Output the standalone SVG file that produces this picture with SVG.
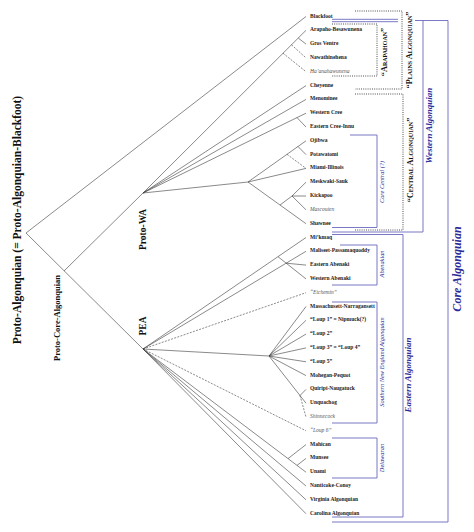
<svg xmlns="http://www.w3.org/2000/svg" width="474" height="532" viewBox="0 0 474 532">
<style>
.e{stroke:#3a3a3a;stroke-width:0.6;fill:none}
.d{stroke-dasharray:2 1.3}
.b{stroke:#6a6ac0;stroke-width:0.9;fill:none}
.p{stroke:#222;stroke-width:0.8;stroke-dasharray:1 1.2;fill:none}
text{font-family:"Liberation Serif","Times New Roman",serif}
.lf{font-size:5.5px;font-weight:bold;fill:#222}
.it{font-weight:normal;font-style:italic;fill:#555}
.nl{font-weight:bold;fill:#111}
.sc{font-size:8.3px;font-weight:bold;font-variant:small-caps;fill:#111}
.bl{font-style:italic;fill:#2b2b99}
.bb{font-weight:bold;font-style:italic;fill:#2b2b99}
</style>
<rect width="474" height="532" fill="#fff"/>
<g id="connectors">
<path class="e" d="M26,233L306,16.5M26,233L143,349M64,271L143,193"/>
<path class="e" d="M143,193L306,30.3M298.3,38.1L306,44.1M143,193L306,85.6M143,193L306,99.4M143,193L306,113.2M297,117.6L306,127M143,193L248,182"/>
<path class="e d" d="M291.5,44.8L306,57.9M283,53.2L306,71.7"/>
<path class="e" d="M248,182L306,140.8M298,146.5L306,154.6M248,182L306,168.4M248,182L306,223.7M280,205L292,196M292,196L306,182.2M292,196L306,196M292,196L306,209.8"/>
<path class="e d" d="M287,154.3L306,168.4"/>
<path class="e" d="M143,349L306,237.5M143,349L306,251.3M278,256.7L306,278.9M286.2,263.2L306,265.1"/>
<path class="e d" d="M143,349L306,292.7"/>
<path class="e" d="M143,349L269,356M269,356L306,306.5M269,356L306,320.3M269,356L306,334.1M269,356L306,347.9M269,356L306,361.8M269,356L306,375.6M269,356L306,403.2M300,395.5L306,389.4"/>
<path class="e d" d="M300,395.5L306,417M143,349L306,430.8"/>
<path class="e" d="M143,349L306,472.2M288,458.6L306,444.6M297,465.4L306,458.4M143,349L306,486M143,349L306,499.8M143,349L306,513.7"/>
</g>
<g id="root"><text class="nl" font-size="11.5" transform="translate(20.8,220) rotate(-90)" text-anchor="middle">Proto-Algonquian (= Proto-Algonquian-Blackfoot)</text></g>
<g id="proto-core"><text class="nl" font-size="8.5" transform="translate(59.8,318) rotate(-90)" text-anchor="middle">Proto-Core-Algonquian</text></g>
<g id="proto-wa"><text class="nl" font-size="9.5" transform="translate(146.2,229.5) rotate(-90)" text-anchor="middle">Proto-WA</text></g>
<g id="pea"><text class="nl" font-size="9.5" transform="translate(146.2,326) rotate(-90)" text-anchor="middle">PEA</text></g>
<g id="leaves">
<g id="n-blackfoot"><text class="lf" x="310" y="17.5">Blackfoot</text></g>
<g id="n-arapaho"><text class="lf" x="310" y="31.3">Arapaho-Besawunena</text></g>
<g id="n-grosventre"><text class="lf" x="310" y="45.1">Gros Ventre</text></g>
<g id="n-nawathinehena"><text class="lf" x="310" y="58.9">Nawathinehena</text></g>
<g id="n-haanahawunena"><text class="lf it" x="310" y="72.7">Ha’anahawunena</text></g>
<g id="n-cheyenne"><text class="lf" x="310" y="86.6">Cheyenne</text></g>
<g id="n-menominee"><text class="lf" x="310" y="100.4">Menominee</text></g>
<g id="n-wcree"><text class="lf" x="310" y="114.2">Western Cree</text></g>
<g id="n-ecree"><text class="lf" x="310" y="128">Eastern Cree-Innu</text></g>
<g id="n-ojibwa"><text class="lf" x="310" y="141.8">Ojibwa</text></g>
<g id="n-potawatomi"><text class="lf" x="310" y="155.6">Potawatomi</text></g>
<g id="n-miami"><text class="lf" x="310" y="169.4">Miami-Illinois</text></g>
<g id="n-meskwaki"><text class="lf" x="310" y="183.2">Meskwaki-Sauk</text></g>
<g id="n-kickapoo"><text class="lf" x="310" y="197">Kickapoo</text></g>
<g id="n-mascouten"><text class="lf it" x="310" y="210.8">Mascouten</text></g>
<g id="n-shawnee"><text class="lf" x="310" y="224.7">Shawnee</text></g>
<g id="n-mikmaq"><text class="lf" x="310" y="238.5">Mi’kmaq</text></g>
<g id="n-maliseet"><text class="lf" x="310" y="252.3">Maliseet-Passamaquoddy</text></g>
<g id="n-eabenaki"><text class="lf" x="310" y="266.1">Eastern Abenaki</text></g>
<g id="n-wabenaki"><text class="lf" x="310" y="279.9">Western Abenaki</text></g>
<g id="n-etchemin"><text class="lf it" x="310" y="293.7">“Etchemin”</text></g>
<g id="n-mass"><text class="lf" x="310" y="307.5">Massachusett-Narragansett</text></g>
<g id="n-loup1"><text class="lf" x="310" y="321.3">“Loup 1” = Nipmuck(?)</text></g>
<g id="n-loup2"><text class="lf" x="310" y="335.1">“Loup 2”</text></g>
<g id="n-loup3"><text class="lf" x="310" y="348.9">“Loup 3” = “Loup 4”</text></g>
<g id="n-loup5"><text class="lf" x="310" y="362.8">“Loup 5”</text></g>
<g id="n-mohegan"><text class="lf" x="310" y="376.6">Mohegan-Pequot</text></g>
<g id="n-quiripi"><text class="lf" x="310" y="390.4">Quiripi-Naugatuck</text></g>
<g id="n-unquachog"><text class="lf" x="310" y="404.2">Unquachog</text></g>
<g id="n-shinnecock"><text class="lf it" x="310" y="418">Shinnecock</text></g>
<g id="n-loup6"><text class="lf it" x="310" y="431.8">“Loup 6”</text></g>
<g id="n-mahican"><text class="lf" x="310" y="445.6">Mahican</text></g>
<g id="n-munsee"><text class="lf" x="310" y="459.4">Munsee</text></g>
<g id="n-unami"><text class="lf" x="310" y="473.2">Unami</text></g>
<g id="n-nanticoke"><text class="lf" x="310" y="487">Nanticoke-Conoy</text></g>
<g id="n-virginia"><text class="lf" x="310" y="500.8">Virginia Algonquian</text></g>
<g id="n-carolina"><text class="lf" x="310" y="514.7">Carolina Algonquian</text></g>
</g>
<g id="brackets">
<g id="g-arapahoan"><path class="p" d="M332,24H377V76H332"/><text class="sc" font-size="6.8" transform="translate(386.8,52) rotate(-90)" text-anchor="middle">“Arapahoan”</text></g>
<g id="g-plains"><path class="p" d="M355,11H402V89H355"/><text class="sc" transform="translate(411.7,50) rotate(-90)" text-anchor="middle">“Plains Algonquian”</text></g>
<g id="g-central"><path class="p" d="M355,94H403V230H355"/><text class="sc" transform="translate(412.7,160) rotate(-90)" text-anchor="middle">“Central Algonquian”</text></g>
<g id="g-corecentral"><path class="b" d="M350,135H377V227.5H332"/><text class="bl" font-size="6.3" transform="translate(383.5,182) rotate(-90)" text-anchor="middle">Core Central (?)</text></g>
<g id="g-western"><path class="b" d="M332,19.3H398M332,21.7H398M415,20.5H448M423,20.5V232H332"/><text class="bb" font-size="9" transform="translate(431.7,125.5) rotate(-90)" text-anchor="middle">Western Algonquian</text></g>
<g id="g-core"><path class="b" d="M448,20.5V522H332"/><text class="bb" font-size="12" transform="translate(460.6,269) rotate(-90)" text-anchor="middle">Core Algonquian</text></g>
<g id="g-eastern"><path class="b" d="M332,234.5H403V517H332"/><text class="bb" font-size="9" transform="translate(410.7,375) rotate(-90)" text-anchor="middle">Eastern Algonquian</text></g>
<g id="g-abenakian"><path class="b" d="M340,245H377V285H332"/><text class="bl" font-size="6.3" transform="translate(384,264) rotate(-90)" text-anchor="middle">Abenakian</text></g>
<g id="g-sne"><path class="b" d="M332,302H377V423H332"/><text class="bl" font-size="6.3" transform="translate(384,362) rotate(-90)" text-anchor="middle">Southern New England Algonquian</text></g>
<g id="g-delawaran"><path class="b" d="M332,438H377V478H332"/><text class="bl" font-size="6.3" transform="translate(384,458) rotate(-90)" text-anchor="middle">Delawaran</text></g>
</g>
</svg>
